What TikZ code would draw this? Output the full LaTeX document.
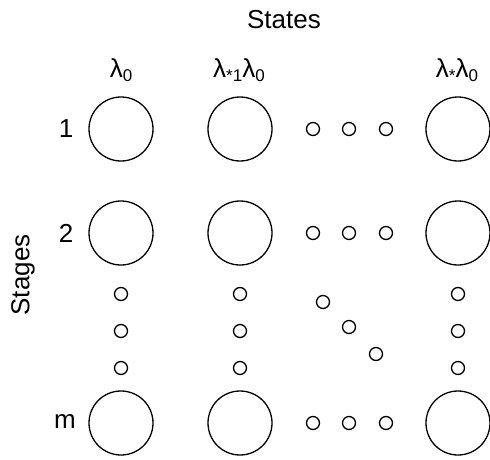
\documentclass[tikz,border=0pt]{standalone}
\usepackage{fontspec}
\setmainfont{Liberation Sans}
\newcommand{\lsub}[1]{\raisebox{-0.3ex}{\fontsize{17}{17}\selectfont #1}}
\begin{document}
\begin{tikzpicture}[x=1pt,y=-1pt,
  statebox/.style={circle,draw,line width=1.3pt,minimum size=64pt,inner sep=0pt},
  dotbox/.style={circle,draw,line width=1.3pt,minimum size=13pt,inner sep=0pt},
  lab/.style={font=\fontsize{26}{26}\selectfont,inner sep=0pt}]
\useasboundingbox (0,0) rectangle (490,460);

% axis titles
\node[lab] (states) at (284,20) {States};
\node[lab,rotate=90] (stages) at (23,275) {Stages};

% column headings
\node[lab] (h1) at (121,70) {λ\lsub{0}};
\node[lab] (h2) at (239,70) {λ\lsub{*1}λ\lsub{0}};
\node[lab] (h3) at (457,70) {λ\lsub{*}λ\lsub{0}};

% row headings
\node[lab] (r1) at (66,129) {1};
\node[lab] (r2) at (66,233) {2};
\node[lab] (rm) at (65,422) {m};

% state circles
\foreach \c/\x in {1/121,2/240,3/458}{
  \foreach \r/\y in {1/129,2/233,m/423}{
    \node[statebox] (s\c\r) at (\x,\y) {};
  }
}

% horizontal ellipses in rows 1, 2 and m
\foreach \r/\y in {1/129,2/233,m/423}{
  \foreach \k/\x in {1/313,2/349,3/386}{
    \node[dotbox] (h\r\k) at (\x,\y) {};
  }
}

% vertical ellipses in each column
\foreach \c/\x in {1/121,2/240,3/458}{
  \foreach \k/\y in {1/294,2/331,3/368}{
    \node[dotbox] (v\c\k) at (\x,\y) {};
  }
}

% diagonal ellipsis
\node[dotbox] (d1) at (323,302) {};
\node[dotbox] (d2) at (349,327) {};
\node[dotbox] (d3) at (376,354) {};
\end{tikzpicture}
\end{document}
